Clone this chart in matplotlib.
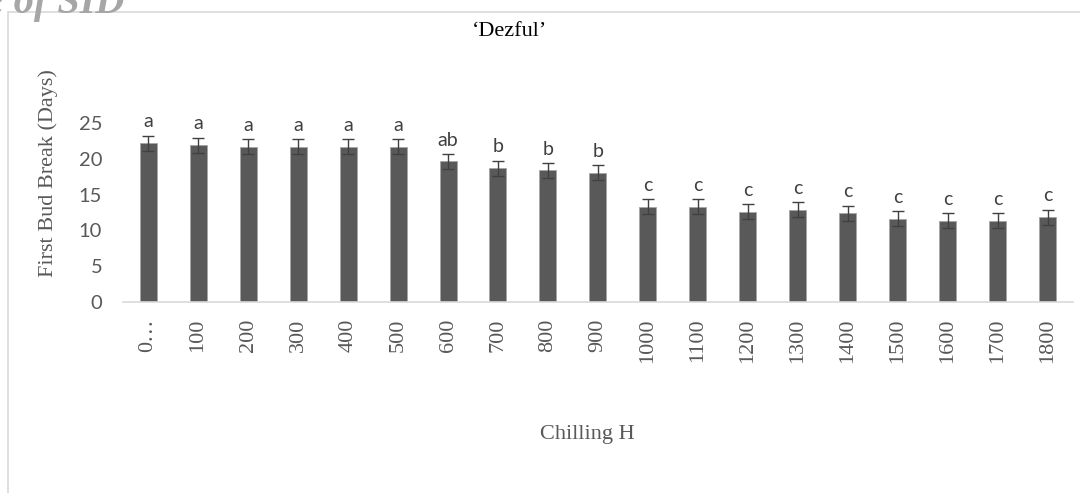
import matplotlib
matplotlib.use('Agg')
import matplotlib.pyplot as plt
from matplotlib.patches import Rectangle

# chilling hours and first bud break (days)
hours = ['0…', '100', '200', '300', '400', '500', '600', '700', '800', '900',
         '1000', '1100', '1200', '1300', '1400', '1500', '1600', '1700', '1800']
days = [22.2, 21.95, 21.7, 21.7, 21.7, 21.7, 19.65, 18.7, 18.4, 18.1,
        13.3, 13.3, 12.6, 12.9, 12.4, 11.6, 11.35, 11.35, 11.85]
errors = [1.05, 1.05, 1.05, 1.05, 1.05, 1.05, 1.05, 1.05, 1.05, 1.05,
          1.05, 1.05, 1.05, 1.05, 1.05, 1.05, 1.05, 1.05, 1.05]
letters = ['a', 'a', 'a', 'a', 'a', 'a', 'ab', 'b', 'b', 'b',
           'c', 'c', 'c', 'c', 'c', 'c', 'c', 'c', 'c']

serif = 'Liberation Serif'
sans = 'Lato'

fig = plt.figure(figsize=(10.8, 4.93), dpi=100)
ax = fig.add_axes([0.1139, 0.388, 0.8796, 0.362])

x = list(range(len(hours)))
ax.bar(x, days, width=0.34, color='#595959', edgecolor='#a6a6a6', linewidth=0.6)
ax.errorbar(x, days, yerr=errors, fmt='none', ecolor='#404040',
            elinewidth=1, capsize=4, capthick=1, clip_on=False)

for i in x:
    ax.annotate(letters[i], xy=(i, days[i] + errors[i]), xytext=(0, 6),
                textcoords='offset points', ha='center', va='baseline',
                fontsize=14, family=sans, color='#404040', annotation_clip=False)

ax.set_xlim(-0.5, len(hours) - 0.5)
ax.set_ylim(0, 25)
ax.set_yticks([0, 5, 10, 15, 20, 25])
ax.set_xticks(x)
ax.set_xticklabels(hours, rotation=90, fontsize=16, family=serif, color='#595959')
for lbl in ax.get_yticklabels():
    lbl.set_family(sans)
    lbl.set_fontsize(14.5)
    lbl.set_color('#595959')
ax.tick_params(axis='both', length=0)
ax.tick_params(axis='x', pad=12)
ax.tick_params(axis='y', pad=15)

for side in ['top', 'right', 'left']:
    ax.spines[side].set_visible(False)
ax.spines['bottom'].set_color('#d9d9d9')
ax.spines['bottom'].set_linewidth(1.2)

ax.set_ylabel('First Bud Break (Days)', family=serif, fontsize=16, color='#595959')
ax.yaxis.set_label_coords(-0.068, 0.72)

fig.text(0.472, 1 - 32 / 493, '\u2018Dezful\u2019', family=serif, fontsize=16,
         color='black', ha='center', va='center')
fig.text(0.544, 1 - 435 / 493, 'Chilling H', family=serif, fontsize=16,
         color='#595959', ha='center', va='center')

# chart frame and watermark
fig.patches.append(Rectangle((8 / 1080, -0.1), 1.2, 1.1 - 12 / 493,
                             transform=fig.transFigure, fill=False,
                             edgecolor='#d9d9d9', linewidth=1.2))
fig.text(125 / 1080, 1 - 13 / 493, 'Archive of SID', family=serif, style='italic',
         weight='bold', fontsize=29, color='#a6a6a6', ha='right', va='baseline')

fig.savefig('out.png', dpi=100)
